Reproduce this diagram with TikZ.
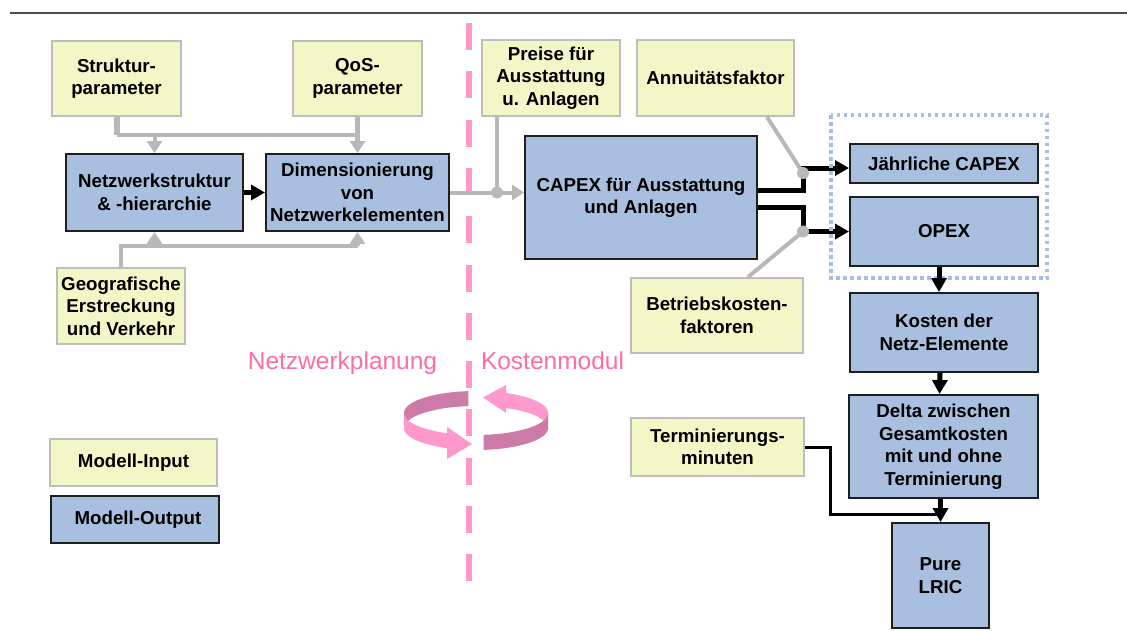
\documentclass[tikz,border=0pt]{standalone}
\usepackage{fontspec}
\setmainfont{Liberation Sans}
\usetikzlibrary{arrows.meta}

\definecolor{inyellow}{HTML}{F3F6C6}
\definecolor{inborder}{HTML}{BDBDBD}
\definecolor{outblue}{HTML}{A9BFDF}
\definecolor{outborder}{HTML}{1E1E1E}
\definecolor{linkgray}{HTML}{B8B8B8}
\definecolor{ribbonlight}{HTML}{FF99CC}
\definecolor{ribbondark}{HTML}{CC7AA8}
\definecolor{labelpink}{HTML}{FF6E9E}
\definecolor{groupblue}{HTML}{A9BFDF}
\definecolor{rulegray}{HTML}{4D4D4D}

\begin{document}
\begin{tikzpicture}[x=1pt,y=-1pt,
  boxtext/.style={font=\fontsize{18.7}{22.5}\selectfont\bfseries, align=center, inner sep=0pt, text=black},
  inbox/.style={boxtext, draw=inborder, line width=2pt, fill=inyellow},
  outbox/.style={boxtext, draw=outborder, line width=2pt, fill=outblue},
  sz/.style 2 args={minimum width=#1pt, minimum height=#2pt},
  gline/.style={draw=linkgray, line width=4pt},
  garrow/.style={gline, -{Triangle[length=12pt,width=15pt]}},
  bline/.style={draw=black, line width=5pt},
  barrow/.style={bline, -{Triangle[length=14pt,width=15pt]}},
  tline/.style={draw=black, line width=3pt},
  junction/.style={fill=linkgray},
  pinklabel/.style={font=\fontsize{24.5}{28}\selectfont, text=labelpink, inner sep=0pt},
  divider/.style={draw=ribbonlight, line width=6.5pt, dash pattern=on 27pt off 21.3pt},
  groupframe/.style={draw=groupblue, line width=3.2pt, dash pattern=on 3.5pt off 3.5pt},
]
\useasboundingbox (0,0) rectangle (1127,630);

% header rule
\draw[rulegray, line width=2pt] (10,13) -- (1127,13);

% divider between planning and cost module
\coordinate (divtop) at (469,23);
\coordinate (divbot) at (469,582);
\draw[divider] (divtop) -- (divbot);

% ---------- network planning side ----------
\node[inbox, sz={129}{75}] (S) at (116.5,78.5) {Struktur-\\parameter};
\node[inbox, sz={129}{75}] (Q) at (357.5,78.5) {QoS-\\parameter};
\node[outbox, sz={177}{77}] (N) at (154.5,192.5) {Netzwerkstruktur\\\& -hierarchie};
\node[outbox, sz={183}{77}] (D) at (357.5,192.5) {Dimensionierung\\von\\Netzwerkelementen};
\node[inbox, sz={128}{76}] (G) at (121,306) {Geografische\\Erstreckung\\und Verkehr};

\node[inbox, sz={167}{47}] (Inp) at (133.5,462.5) {Modell-Input};
\node[outbox, sz={168}{47}] (Outp) at (135,519.5) {\hspace*{6pt}Modell-Output};

% parameter feeds
\coordinate (j1) at (116.5,135);
\draw[gline, line width=6pt] (S.south) -- (j1);
\draw[gline] (j1) -- (j1 -| Q.south);
\draw[garrow, line width=5.5pt] (Q.south) -- (D.north);
\draw[garrow] (j1 -| N.north) -- (N.north);

\coordinate (j2) at (121,246);
\draw[gline] (G.north) -- (j2) -- (j2 -| D.south);
\draw[garrow] (j2 -| D.south) -- (D.south);
\draw[garrow] (j2 -| N.south) -- (N.south);

\draw[barrow] (N.east) -- (D.west);

% ---------- cost module side ----------
\node[inbox, sz={138}{76}] (P) at (551,78) {Preise für\\Ausstattung\\u. Anlagen};
\node[inbox, sz={157}{76}] (A) at (715.5,78) {Annuitätsfaktor};
\node[outbox, sz={232}{123}] (C) at (641,197.5) {CAPEX für Ausstattung\\und Anlagen};
\node[inbox, sz={172}{75}] (B) at (717,315.5) {Betriebskosten-\\faktoren};

\node[outbox, sz={188}{39}] (J) at (944,163.5) {Jährliche CAPEX};
\node[outbox, sz={188}{69}] (O) at (944,231.5) {OPEX};
\node[outbox, sz={188}{79}] (K) at (944,332.5) {Kosten der\\Netz-Elemente};
\node[outbox, sz={189}{103}] (Dl) at (943.5,446.5) {Delta zwischen\\Gesamtkosten\\mit und ohne\\Terminierung};
\node[outbox, sz={97}{105}] (Pu) at (940.5,575.5) {Pure\\LRIC};
\node[inbox, sz={173}{58}] (T) at (717.5,447) {Terminierungs-\\minuten};

% dimensioning result and prices into CAPEX
\coordinate (dp) at (497,192.5);
\draw[gline] (D.east) -- (dp);
\draw[gline] (P.south -| dp) -- (dp);
\draw[garrow] (dp) -- (C.west |- dp);
\fill[junction] (dp) circle[radius=6pt];

% CAPEX split into annual CAPEX and OPEX
\coordinate (ju) at (803,168);
\coordinate (jl) at (803,231.5);
\coordinate (du) at (803,173);
\draw[barrow] ([yshift=7.5pt]C.east) -| (ju) -- ([yshift=-4.5pt]J.west);
\draw[barrow] ([yshift=-9.5pt]C.east) -| (jl) -- (O.west);
\draw[gline] ([xshift=51.5pt]A.south) -- (du);
\draw[gline] ([xshift=31pt]B.north) -- (jl);
\fill[junction] (du) circle[radius=6pt];
\fill[junction] (jl) circle[radius=6pt];

\draw[groupframe] (831,115) rectangle (1047,278);

% result chain
\draw[barrow] ([xshift=-5pt]O.south) -- ([xshift=-5pt]K.north);
\draw[barrow] ([xshift=-4pt]K.south) -- ([xshift=-4pt]Dl.north);
\draw[barrow] (Dl.south -| Pu.north) -- (Pu.north);
\coordinate (tj) at (830,514);
\draw[tline] (T.east) -| (tj) -- (tj -| Pu.north);

% module labels
\node[pinklabel, anchor=base] (lplan) at (342.5,369) {Netzwerkplanung};
\node[pinklabel, anchor=base] (lcost) at (552.5,369) {Kostenmodul};

% circular iteration ribbon (two halves of an elliptic band)
\fill[ribbondark]
  plot[domain=264:180, samples=40, variable=\t] ({476+72*cos(\t)},{413+22*sin(\t)})
  -- plot[domain=180:264, samples=40, variable=\t] ({476+72*cos(\t)},{428+22*sin(\t)}) -- cycle;
\fill[ribbonlight]
  plot[domain=180:112, samples=40, variable=\t] ({476+72*cos(\t)},{413+22*sin(\t)})
  -- plot[domain=112:180, samples=40, variable=\t] ({476+72*cos(\t)},{428+22*sin(\t)}) -- cycle;
\fill[ribbonlight] (447,427) -- (472,444) -- (447,459) -- cycle;
\fill[ribbonlight]
  plot[domain=292:360, samples=40, variable=\t] ({476+72*cos(\t)},{413+22*sin(\t)})
  -- plot[domain=360:292, samples=40, variable=\t] ({476+72*cos(\t)},{428+22*sin(\t)}) -- cycle;
\fill[ribbonlight] (506,385) -- (483,397.5) -- (506,413) -- cycle;
\fill[ribbondark]
  plot[domain=0:84, samples=40, variable=\t] ({476+72*cos(\t)},{413+22*sin(\t)})
  -- plot[domain=84:0, samples=40, variable=\t] ({476+72*cos(\t)},{428+22*sin(\t)}) -- cycle;
\end{tikzpicture}
\end{document}
